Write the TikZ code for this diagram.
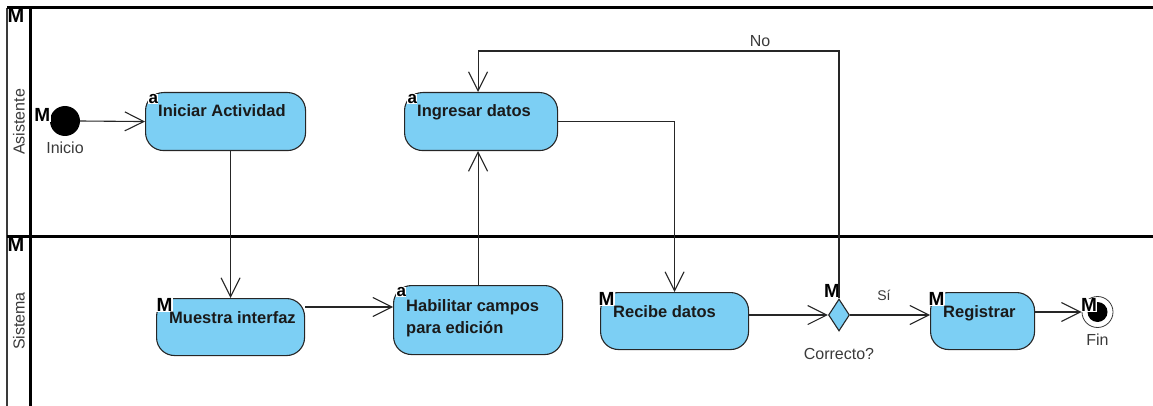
\documentclass[tikz,border=0pt]{standalone}
\usepackage{fontspec}
\setmainfont{Liberation Sans}
\usetikzlibrary{shapes.geometric, arrows.meta, positioning}

\definecolor{cAct}{HTML}{7CCFF4}
\definecolor{cLine}{HTML}{262626}
\definecolor{cText}{HTML}{1A1A1A}
\definecolor{cGray}{HTML}{3A3A3A}

\tikzset{
  act/.style={
    rectangle, rounded corners=18pt, draw=cLine, fill=cAct, line width=1.1pt,
    minimum height=57pt, inner sep=0pt, anchor=north west
  },
  acttext/.style={
    anchor=base west, xshift=13pt, yshift=#1, inner sep=0pt,
    font=\bfseries\fontsize{16.5}{21.6}\selectfont, text=cText, align=left
  },
  acttext/.default=-25pt,
  mtag/.style={
    anchor=north west, inner sep=0.4pt, fill=white, text=black,
    font=\bfseries\fontsize{19}{19}\selectfont
  },
  atag/.style={
    anchor=north west, xshift=3pt, yshift=-2pt, inner sep=0.4pt, fill=white,
    font=\bfseries\fontsize{17}{17}\selectfont
  },
  decision/.style={
    diamond, draw=cLine, fill=cAct, line width=1.1pt,
    minimum width=21pt, minimum height=32pt, inner sep=0pt
  },
  initial/.style={circle, fill=black, minimum size=30pt, inner sep=0pt},
  final/.style={
    circle, draw=cGray, fill=white, line width=0.8pt, minimum size=31pt, inner sep=0pt,
    path picture={\fill[black] (path picture bounding box.center) circle (10pt);}
  },
  lbl/.style={font=\fontsize{16}{19}\selectfont, text=cGray, inner sep=0pt},
  lane/.style={line width=3pt, draw=black},
  flow/.style={-{Straight Barb[length=19pt, width=19pt]}, line width=1.1pt, draw=cLine},
}

\begin{document}
\begin{tikzpicture}[x=1pt, y=-1pt]
  \useasboundingbox (0,0) rectangle (1153,406);

  % Swimlanes
  \draw[line width=2.2pt, draw=cGray] (7,8) -- (7,406);
  \draw[lane] (30,8) -- (30,406);
  \draw[lane] (7,8) -- (1153,8);
  \draw[lane] (7,236) -- (1153,236);
  \node[mtag, fill=none, font=\bfseries\fontsize{20}{20}\selectfont] (mAsis) at (7,8.5) {M};
  \node[mtag, fill=none, font=\bfseries\fontsize{20}{20}\selectfont] (mSist) at (7,237.5) {M};
  \node[lbl, rotate=90] (asistente) at (19,122) {Asistente};
  \node[lbl, rotate=90] (sistema) at (19,321) {Sistema};

  % Asistente lane
  \node[initial, label={[mtag, anchor=south east, xshift=1pt, yshift=-1pt]west:M}]
    (start) at (65,121) {};
  \node[lbl, below=6pt of start] (inicio) {Inicio};
  \node[act, minimum width=160pt, minimum height=58pt,
        label={[atag]north west:a},
        label={[acttext]north west:Iniciar Actividad}] (iniciar) at (145,92) {};
  \node[act, minimum width=153pt, minimum height=58pt,
        label={[atag]north west:a},
        label={[acttext]north west:Ingresar datos}] (ingresar) at (404,92) {};

  % Sistema lane
  \node[act, minimum width=148pt,
        label={[mtag]north west:M},
        label={[acttext]north west:Muestra interfaz}] (muestra) at (156,298) {};
  \node[act, minimum width=169pt, minimum height=69pt,
        label={[atag]north west:a},
        label={[acttext=-14.6pt, anchor=north west]north west:{Habilitar campos\\para edición}}]
    (habilitar) at (393,285) {};
  \node[act, minimum width=148pt,
        label={[mtag, xshift=-2pt]north west:M},
        label={[acttext]north west:Recibe datos}] (recibe) at (600,292) {};
  \node[decision, label={[mtag, anchor=south, xshift=-7pt]north:M}] (dec) at (839,315) {};
  \node[lbl, below=17pt of dec] (correcto) {Correcto?};
  \node[act, minimum width=104pt,
        label={[mtag, xshift=-2pt]north west:M},
        label={[acttext]north west:Registrar}] (registrar) at (930,292) {};
  \node[final] (fin) at (1097.5,312) {};
  \node[mtag, anchor=center, fill=white, inner sep=0pt] (mFin) at ([xshift=-8.5pt, yshift=6.7pt]fin.center) {M};
  \node[lbl, below=6pt of fin] (finlbl) {Fin};

  % Flows
  \draw[flow] (start.east) -- (iniciar.west);
  \draw[flow] (muestra.north |- iniciar.south) -- (muestra.north);
  \draw[flow] ([yshift=-9pt]muestra.north east) coordinate (mh) -- (mh -| habilitar.west);
  \draw[flow] (habilitar.north) -- (habilitar.north |- ingresar.south);
  \draw[flow] (ingresar.east) -| (recibe.north);
  \draw[flow] (recibe.east |- dec.west) -- (dec.west);
  \draw[flow] (dec.east) -- (dec.east -| registrar.west);
  \draw[flow] (registrar.east |- fin.west) -- (fin.west);

  % Back to Ingresar datos when the data is wrong
  \coordinate (back) at (dec.north |- 0,51);
  \draw[flow] (dec.north) -- (back) -| (habilitar.north |- ingresar.north);
  \node[lbl] (no) at (760,41) {No};
  \node[lbl, font=\fontsize{14}{16}\selectfont] (si) at (884,295) {Sí};

\end{tikzpicture}
\end{document}
